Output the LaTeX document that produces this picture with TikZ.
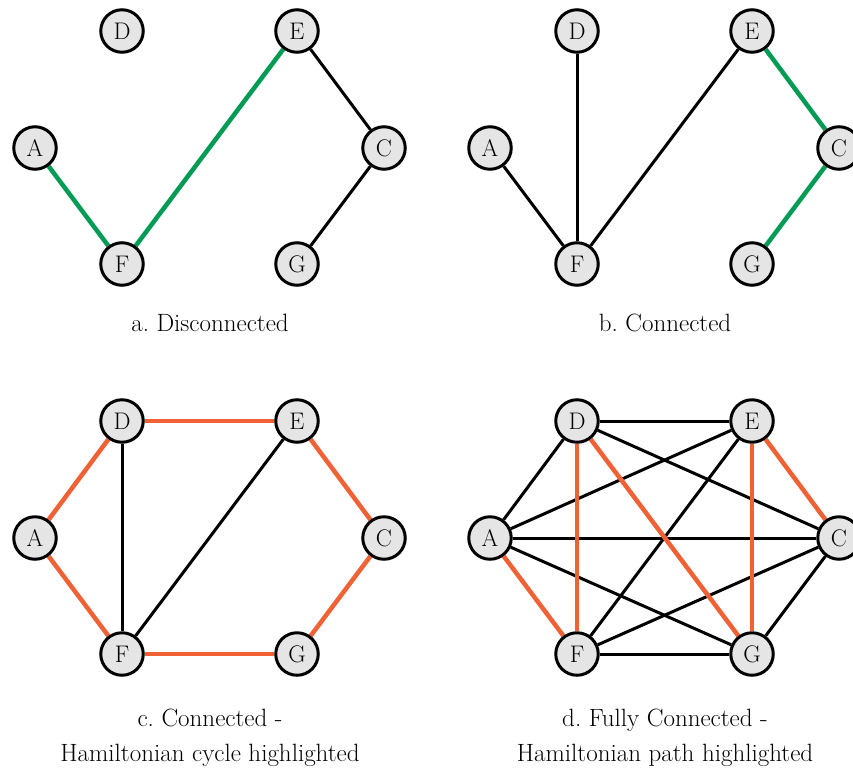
\documentclass[tikz,border=0pt]{standalone}
\usepackage{fontspec}
\usetikzlibrary{backgrounds}
\definecolor{hlgreen}{RGB}{0,155,85}
\definecolor{hlorange}{RGB}{240,98,54}
\definecolor{nodefill}{RGB}{229,229,229}
\frenchspacing
\begin{document}
\begin{tikzpicture}[x=1pt,y=-1pt,
  vertex/.style={circle,draw=black,line width=3pt,fill=nodefill,minimum size=42.5pt,inner sep=0pt,font=\fontsize{24}{24}\selectfont},
  edge/.style={draw=black,line width=3pt},
  gedge/.style={draw=hlgreen,line width=4.5pt},
  oedge/.style={draw=hlorange,line width=4.5pt},
  caption/.style={font=\fontsize{25}{35}\selectfont,align=center,inner sep=0pt}]
\useasboundingbox (0,0) rectangle (853,771);

% ---------- panel a ----------
\node[vertex] (aD) at (122,31) {D};
\node[vertex] (aE) at (297,31) {E};
\node[vertex] (aA) at (35,148) {A};
\node[vertex] (aC) at (384,148) {C};
\node[vertex] (aF) at (122,264) {F};
\node[vertex] (aG) at (297,264) {G};
\begin{scope}[on background layer]
  \draw[gedge] (aA) -- (aF);
  \draw[gedge] (aF) -- (aE);
  \draw[edge] (aE) -- (aC);
  \draw[edge] (aC) -- (aG);
\end{scope}
\node[caption] (capa) at (210,323) {a. Disconnected};

% ---------- panel b ----------
\begin{scope}[shift={(455,0)}]
\node[vertex] (bD) at (122,31) {D};
\node[vertex] (bE) at (297,31) {E};
\node[vertex] (bA) at (35,148) {A};
\node[vertex] (bC) at (384,148) {C};
\node[vertex] (bF) at (122,264) {F};
\node[vertex] (bG) at (297,264) {G};
\begin{scope}[on background layer]
  \draw[edge] (bD) -- (bF);
  \draw[edge] (bA) -- (bF);
  \draw[edge] (bE) -- (bF);
  \draw[gedge] (bE) -- (bC);
  \draw[gedge] (bC) -- (bG);
\end{scope}
\node[caption] (capb) at (210,323) {b. Connected};
\end{scope}

% ---------- panel c ----------
\begin{scope}[shift={(0,390)}]
\node[vertex] (cD) at (122,31) {D};
\node[vertex] (cE) at (297,31) {E};
\node[vertex] (cA) at (35,148) {A};
\node[vertex] (cC) at (384,148) {C};
\node[vertex] (cF) at (122,264) {F};
\node[vertex] (cG) at (297,264) {G};
\begin{scope}[on background layer]
  \draw[oedge] (cA) -- (cD);
  \draw[oedge] (cD) -- (cE);
  \draw[oedge] (cE) -- (cC);
  \draw[oedge] (cC) -- (cG);
  \draw[oedge] (cG) -- (cF);
  \draw[oedge] (cF) -- (cA);
  \draw[edge] (cD) -- (cF);
  \draw[edge] (cE) -- (cF);
\end{scope}
\node[caption] (capc) at (210,348) {c. Connected -\\Hamiltonian cycle highlighted};
\end{scope}

% ---------- panel d ----------
\begin{scope}[shift={(455,390)}]
\node[vertex] (dD) at (122,31) {D};
\node[vertex] (dE) at (297,31) {E};
\node[vertex] (dA) at (35,148) {A};
\node[vertex] (dC) at (384,148) {C};
\node[vertex] (dF) at (122,264) {F};
\node[vertex] (dG) at (297,264) {G};
\begin{scope}[on background layer]
  \draw[edge] (dA) -- (dD);
  \draw[edge] (dA) -- (dE);
  \draw[edge] (dA) -- (dC);
  \draw[edge] (dA) -- (dG);
  \draw[edge] (dD) -- (dE);
  \draw[edge] (dD) -- (dC);
  \draw[edge] (dE) -- (dF);
  \draw[edge] (dF) -- (dC);
  \draw[edge] (dF) -- (dG);
  \draw[edge] (dG) -- (dC);
  \draw[oedge] (dA) -- (dF);
  \draw[oedge] (dF) -- (dD);
  \draw[oedge] (dD) -- (dG);
  \draw[oedge] (dG) -- (dE);
  \draw[oedge] (dE) -- (dC);
\end{scope}
\node[caption] (capd) at (210,348) {d. Fully Connected -\\Hamiltonian path highlighted};
\end{scope}
\end{tikzpicture}
\end{document}
